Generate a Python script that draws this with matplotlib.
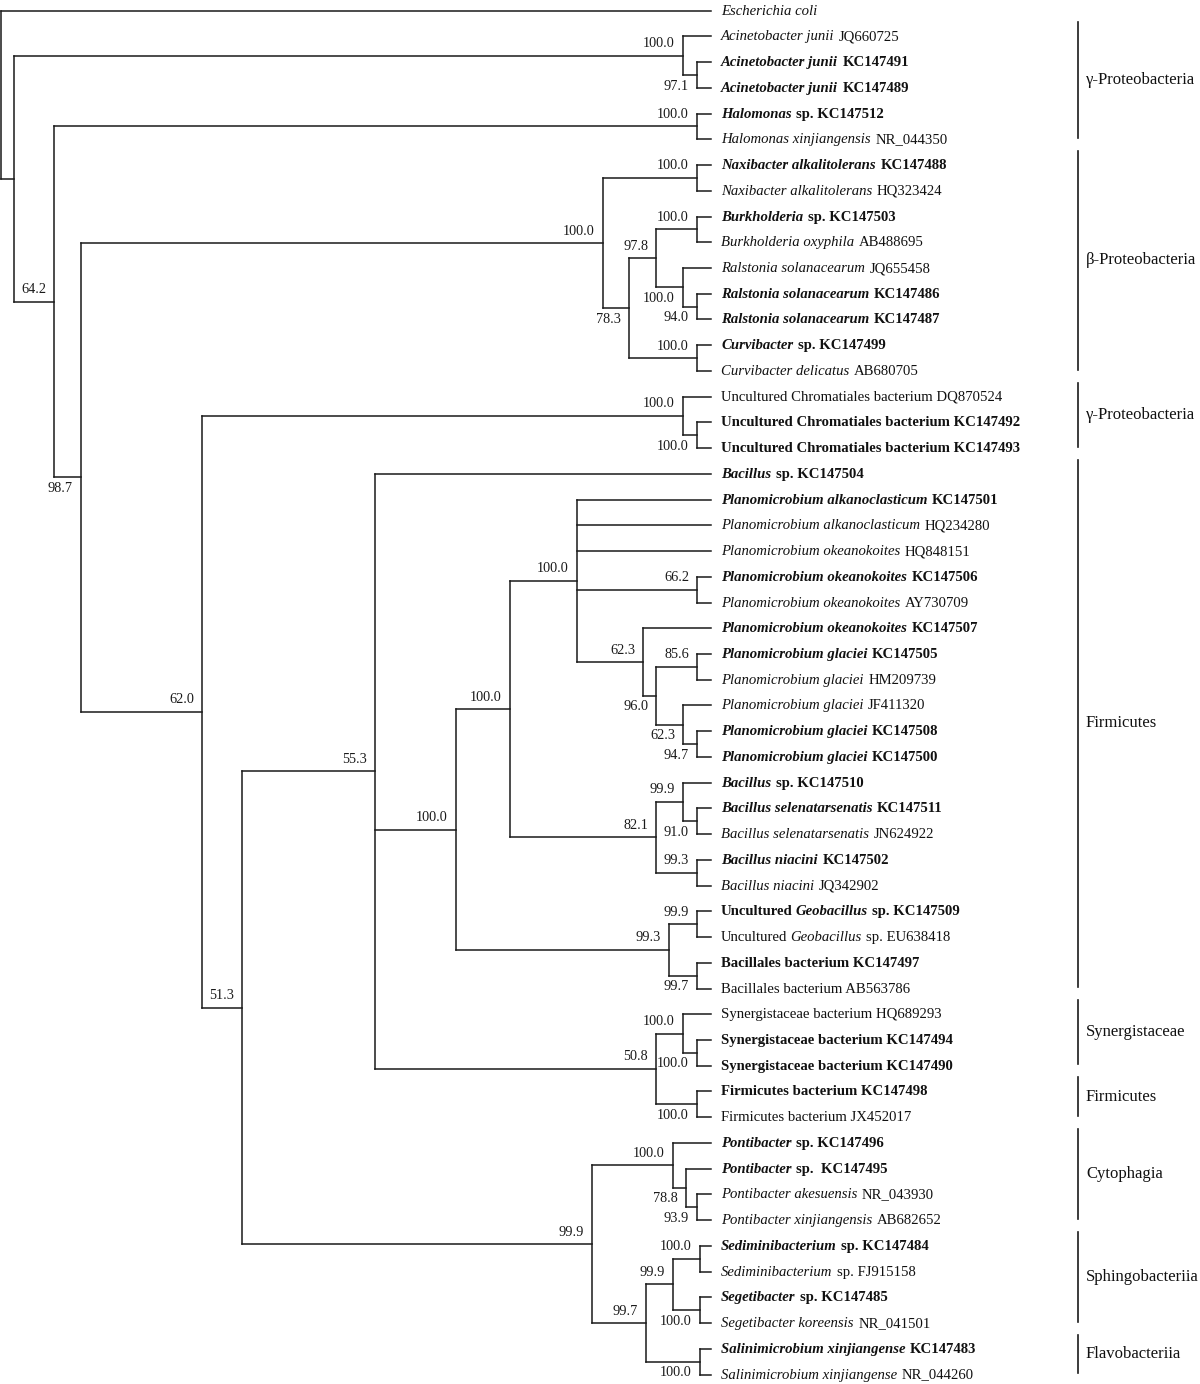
import matplotlib
matplotlib.use("Agg")
import matplotlib.pyplot as plt
from matplotlib.collections import LineCollection

plt.rcParams['font.family'] = ['Liberation Serif', 'DejaVu Serif']

#####################################################
# leaves, top to bottom. *...* = italic part
leaf_names = [
    "*Escherichia coli*",
    "*Acinetobacter junii* JQ660725",
    "*Acinetobacter junii* KC147491",
    "*Acinetobacter junii* KC147489",
    "*Halomonas* sp. KC147512",
    "*Halomonas xinjiangensis* NR_044350",
    "*Naxibacter alkalitolerans* KC147488",
    "*Naxibacter alkalitolerans* HQ323424",
    "*Burkholderia* sp. KC147503",
    "*Burkholderia oxyphila* AB488695",
    "*Ralstonia solanacearum* JQ655458",
    "*Ralstonia solanacearum* KC147486",
    "*Ralstonia solanacearum* KC147487",
    "*Curvibacter* sp. KC147499",
    "*Curvibacter delicatus* AB680705",
    "Uncultured Chromatiales bacterium DQ870524",
    "Uncultured Chromatiales bacterium KC147492",
    "Uncultured Chromatiales bacterium KC147493",
    "*Bacillus* sp. KC147504",
    "*Planomicrobium alkanoclasticum* KC147501",
    "*Planomicrobium alkanoclasticum* HQ234280",
    "*Planomicrobium okeanokoites* HQ848151",
    "*Planomicrobium okeanokoites* KC147506",
    "*Planomicrobium okeanokoites* AY730709",
    "*Planomicrobium okeanokoites* KC147507",
    "*Planomicrobium glaciei* KC147505",
    "*Planomicrobium glaciei* HM209739",
    "*Planomicrobium glaciei* JF411320",
    "*Planomicrobium glaciei* KC147508",
    "*Planomicrobium glaciei* KC147500",
    "*Bacillus* sp. KC147510",
    "*Bacillus selenatarsenatis* KC147511",
    "*Bacillus selenatarsenatis* JN624922",
    "*Bacillus niacini* KC147502",
    "*Bacillus niacini* JQ342902",
    "Uncultured *Geobacillus* sp. KC147509",
    "Uncultured *Geobacillus* sp. EU638418",
    "Bacillales bacterium KC147497",
    "Bacillales bacterium AB563786",
    "Synergistaceae bacterium HQ689293",
    "Synergistaceae bacterium KC147494",
    "Synergistaceae bacterium KC147490",
    "Firmicutes bacterium KC147498",
    "Firmicutes bacterium JX452017",
    "*Pontibacter* sp. KC147496",
    "*Pontibacter* sp.  KC147495",
    "*Pontibacter akesuensis* NR_043930",
    "*Pontibacter xinjiangensis* AB682652",
    "*Sediminibacterium* sp. KC147484",
    "*Sediminibacterium* sp. FJ915158",
    "*Segetibacter* sp. KC147485",
    "*Segetibacter koreensis* NR_041501",
    "*Salinimicrobium xinjiangense* KC147483",
    "*Salinimicrobium xinjiangense* NR_044260",
]
leaf_bold = [0, 0, 1, 1, 1, 0, 1, 0, 1, 0, 0, 1, 1, 1, 0, 0, 1, 1,
             1, 1, 0, 0, 1, 0, 1, 1, 0, 0, 1, 1, 1, 1, 0, 1, 0, 1, 0, 1, 0,
             0, 1, 1, 1, 0, 1, 1, 0, 0, 1, 0, 1, 0, 1, 0]
leaf_parent = ["root", "acin", "acin2", "acin2", "halo", "halo", "naxi", "naxi",
               "burk", "burk", "ral", "ral2", "ral2", "curv", "curv",
               "chrom", "chrom2", "chrom2", "F", "J", "J", "J", "n662", "n662",
               "n623", "n856", "n856", "n623b", "n947", "n947",
               "n999", "n910", "n910", "niac", "niac", "geo", "geo", "bacl", "bacl",
               "syn", "syn2", "syn2", "firm", "firm", "ponti", "n788", "n939", "n939",
               "sedi", "sedi", "sege", "sege", "sali", "sali"]
tip_depth = 711

# internal nodes: id, parent, depth (distance from root), bootstrap
node_id = ["root", "A", "acin", "acin2", "B", "halo", "C", "beta", "naxi", "n783",
           "n978", "burk", "ral", "ral2", "curv", "D", "chrom", "chrom2", "E", "F",
           "H", "I", "J", "n662", "n623", "n960", "n856", "n623b", "n947", "K",
           "n999", "n910", "niac", "L", "geo", "bacl", "M", "syn", "syn2", "firm",
           "N", "ponti", "n788", "n939", "n997", "n999b", "sedi", "sege", "sali"]
node_parent = [None, "root", "A", "acin", "A", "B", "B", "C", "beta", "beta",
               "n783", "n978", "n978", "ral", "n783", "C", "D", "chrom", "D", "E",
               "F", "H", "I", "J", "J", "n623", "n960", "n960", "n623b", "I",
               "K", "n999", "K", "H", "L", "L", "F", "M", "syn", "M",
               "E", "N", "ponti", "n788", "N", "n997", "n999b", "n999b", "n997"]
node_depth = [1, 14, 683, 697, 54, 697, 81, 603, 697, 629,
              656, 697, 683, 697, 697, 202, 683, 697, 242, 375,
              456, 510, 577, 697, 643, 656, 697, 683, 697, 656,
              683, 697, 697, 669, 697, 697, 656, 683, 697, 697,
              592, 673, 686, 697, 646, 673, 700, 700, 700]
node_support = [None, None, 100.0, 97.1, 64.2, 100.0, 98.7, 100.0, 100.0, 78.3,
                97.8, 100.0, 100.0, 94.0, 100.0, 62.0, 100.0, 100.0, 51.3, 55.3,
                100.0, 100.0, 100.0, 66.2, 62.3, 96.0, 85.6, 62.3, 94.7, 82.1,
                99.9, 91.0, 99.3, 99.3, 99.9, 99.7, 50.8, 100.0, 100.0, 100.0,
                99.9, 100.0, 78.8, 93.9, 99.7, 99.9, 100.0, 100.0, 100.0]
# support label above (1) or below (0) the branch
support_above = [1, 1, 1, 0, 1, 1, 0, 1, 1, 0,
                 1, 1, 0, 0, 1, 1, 1, 0, 1, 1,
                 1, 1, 1, 1, 1, 0, 1, 0, 0, 1,
                 1, 0, 1, 1, 1, 0, 1, 1, 0, 0,
                 1, 1, 0, 0, 1, 1, 1, 0, 0]

group_names = ["γ-Proteobacteria", "β-Proteobacteria", "γ-Proteobacteria", "Firmicutes",
               "Synergistaceae", "Firmicutes", "Cytophagia", "Sphingobacteriia", "Flavobacteriia"]
group_first = [1, 6, 15, 18, 39, 42, 44, 48, 52]
group_last = [5, 14, 17, 38, 41, 43, 47, 51, 53]

#####################################################

depth = dict(zip(node_id, node_depth))
children = {n: [] for n in node_id}
for i, p in enumerate(leaf_parent):
    children[p].append(("leaf", i))
for n, p in zip(node_id, node_parent):
    if p is not None:
        children[p].append(("node", n))

ypos = {}
def node_y(n):
    ys = []
    for kind, c in children[n]:
        ys.append(float(c) if kind == "leaf" else node_y(c))
    ypos[n] = (min(ys) + max(ys)) / 2
    return ypos[n]
node_y("root")

fig = plt.figure(figsize=(12, 13.84), dpi=100)
ax = fig.add_axes([0, 0, 1, 1])
ax.set_xlim(0, 1200)
ax.set_ylim(53 + 9.5 / 25.74, -10.7 / 25.74)
ax.axis("off")

segs = []
for i, p in enumerate(leaf_parent):
    segs.append([(depth[p], i), (tip_depth, i)])
for n, p in zip(node_id, node_parent):
    if p is not None:
        segs.append([(depth[p], ypos[n]), (depth[n], ypos[n])])
    ys = [float(c) if k == "leaf" else ypos[c] for k, c in children[n]]
    segs.append([(depth[n], min(ys)), (depth[n], max(ys))])
ax.add_collection(LineCollection(segs, colors="#1a1a1a", linewidths=1.1,
                                 capstyle="projecting"))

# bootstrap values
for n, s, up in zip(node_id, node_support, support_above):
    if s is None:
        continue
    ax.annotate(f"{s:.1f}", xy=(depth[n], ypos[n]), xytext=(-8, 12 if up else -11),
                textcoords="offset pixels", ha="right", va="center",
                fontsize=10.3, color="#1a1a1a")

# leaf labels with mixed italic / roman runs
renderer = fig.canvas.get_renderer()
def text_w(s, **kw):
    t = ax.text(0, 0, s, fontsize=10.6, **kw)
    w = t.get_window_extent(renderer).width
    t.remove()
    return w

for i, (name, b) in enumerate(zip(leaf_names, leaf_bold)):
    weight = "bold" if b else "normal"
    space = text_w("x x", fontweight=weight) - text_w("xx", fontweight=weight)
    off = 10
    for k, piece in enumerate(name.split("*")):
        piece = piece.strip()
        if not piece:
            continue
        italic = k % 2 == 1
        t = ax.annotate(piece, xy=(tip_depth, i), xytext=(off, 1),
                        textcoords="offset pixels", ha="left", va="center_baseline",
                        fontsize=10.6, fontweight=weight,
                        fontstyle="italic" if italic else "normal", color="#111111")
        # italic runs overhang less than their advance, roman ones the other way
        off += t.get_window_extent(renderer).width + space * (1.25 if italic else 0.7)

# group brackets
for g, a, z in zip(group_names, group_first, group_last):
    ax.plot([1078, 1078], [a - 0.55, z - 0.05], color="#1a1a1a", lw=1.2)
    ax.text(1086, (a - 0.55 + z - 0.05) / 2, g, ha="left", va="center",
            fontsize=12, color="#111111")

fig.savefig("out.png", dpi=100)
